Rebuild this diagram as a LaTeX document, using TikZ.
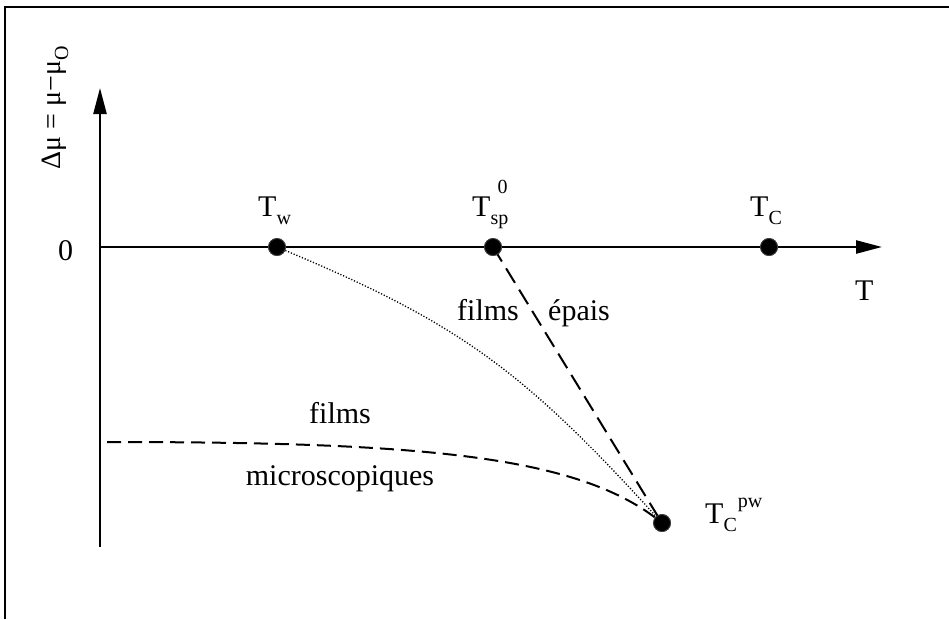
\documentclass[tikz,border=0pt]{standalone}
\usepackage{fontspec}
\setmainfont{Liberation Serif}
\usetikzlibrary{arrows.meta}
\newcommand\sbx[1]{\raisebox{-8pt}{\fontsize{20}{20}\selectfont #1}}
\newcommand\spx[2]{\raisebox{#1}{\fontsize{20}{20}\selectfont #2}}
\begin{document}
\begin{tikzpicture}[x=1pt,y=-1pt,
  frame/.style={line width=2.4pt},
  axis/.style={line width=2.4pt,-{Triangle[length=26pt,width=13pt]}},
  dotpt/.style={circle,fill=black,draw=black!75,line width=0.8pt,minimum size=17pt,inner sep=0pt},
  lbl/.style={font=\fontsize{30}{34}\selectfont,inner sep=0pt,anchor=base west},
  word/.style={font=\fontsize{30}{34}\selectfont,inner sep=0pt,anchor=base},
  longdash/.style={line width=2pt,dash pattern=on 17pt off 8pt},
  middash/.style={line width=2pt,dash pattern=on 14pt off 7pt},
  fine/.style={line width=1.3pt,dash pattern=on 1.2pt off 1.8pt}]
\useasboundingbox (0,0) rectangle (949,619);
% frame
\draw[frame] (5,619) -- (5,7) -- (949,7);
% axes
\coordinate (o) at (100,247);
\coordinate (ybot) at (100,547);
\coordinate (ytop) at (100,88);
\coordinate (xend) at (882,247);
\draw[axis] (ybot) -- (ytop);
\draw[axis] (o) -- (xend);
% points
\node[dotpt] (tw) at (277,247) {};
\node[dotpt] (tsp) at (493,247) {};
\node[dotpt] (tc) at (769,247) {};
\node[dotpt] (tcpw) at (662,523) {};
\coordinate (micro) at (107,442);
% curves
\draw[longdash] (tsp.center) -- (tcpw.center);
\draw[fine] (tw.center) .. controls (457,322) and (521,367) .. (tcpw.center);
\draw[middash] (micro) .. controls (420,442) and (580,455) .. (tcpw.center);
\node[dotpt] at (tw) {};
\node[dotpt] at (tsp) {};
\node[dotpt] at (tc) {};
\node[dotpt] at (tcpw) {};
% labels
\node[lbl] (ltw) at (258,216) {T\sbx{w}};
\node[lbl] (ltsp) at (472,216) {T\rlap{\sbx{sp}}\hspace{7pt}\spx{23pt}{0}};
\node[lbl] (ltc) at (750,216) {T\sbx{C}};
\node[lbl] (ltcpw) at (705,523) {T\sbx{C}\hspace{1pt}\spx{16pt}{pw}};
\node[lbl] (lt) at (855,300) {T};
\node[lbl] (lzero) at (58,260) {0};
\node[word] (f1) at (340,423) {films};
\node[word] (mic) at (340,485) {microscopiques};
\node[word] (f2) at (488,320) {films};
\node[word] (ep) at (579,320) {épais};
\node[font=\fontsize{28}{32}\selectfont,inner sep=0pt,anchor=base,rotate=90] (ylab) at (60,108) {Δμ = μ−μ\sbx{O}};
\end{tikzpicture}
\end{document}
